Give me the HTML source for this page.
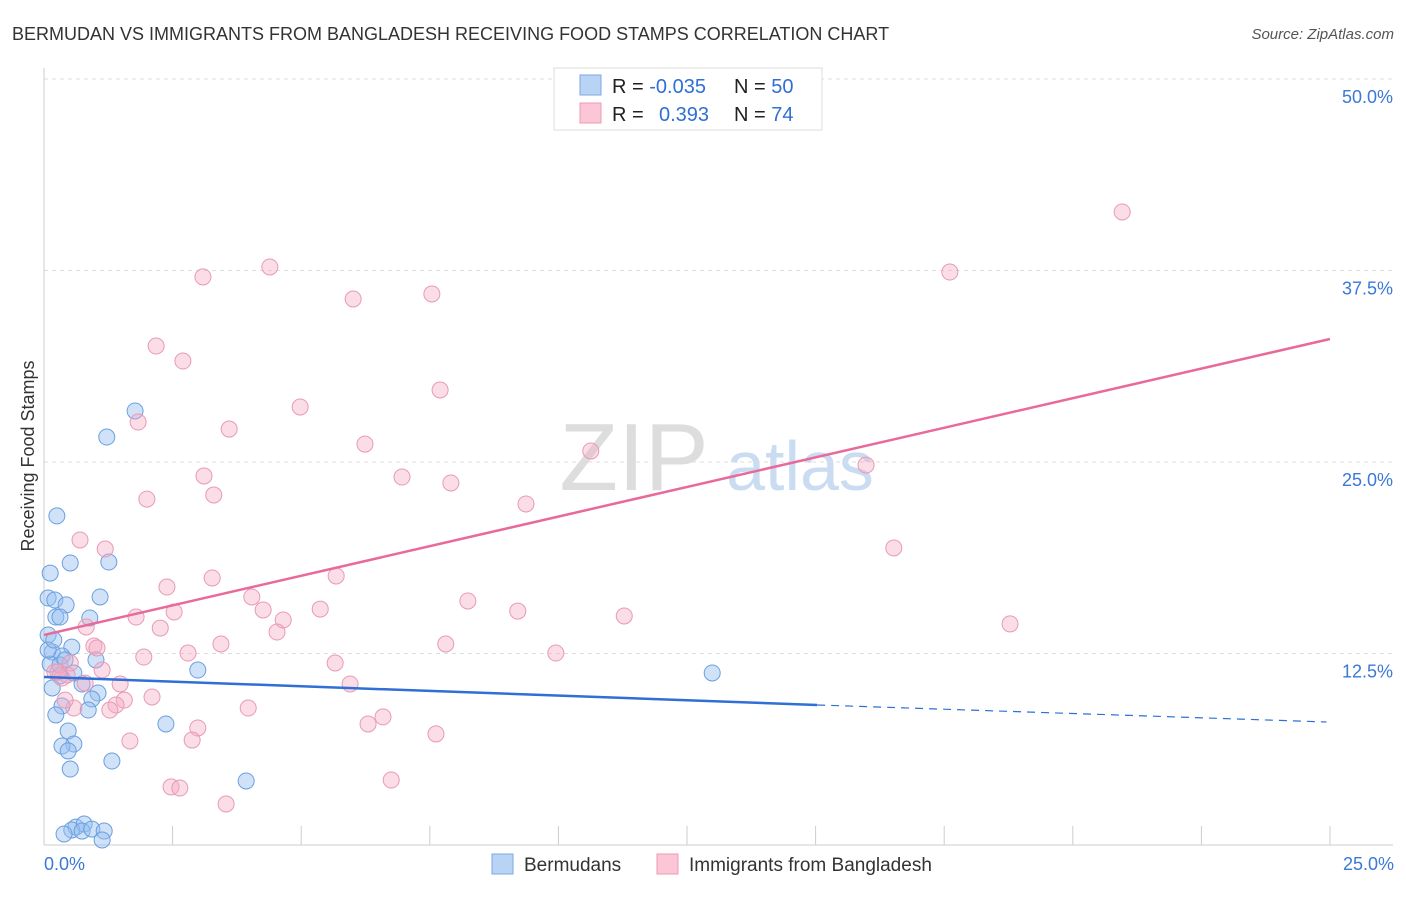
<!DOCTYPE html>
<html><head><meta charset="utf-8"><style>
body{margin:0;background:#fff;font-family:"Liberation Sans",sans-serif;}
svg text{font-family:"Liberation Sans",sans-serif;}
</style></head><body>
<svg id="chart" width="1406" height="892" viewBox="0 0 1406 892">
<text x="12" y="40" font-size="18" fill="#333">BERMUDAN VS IMMIGRANTS FROM BANGLADESH RECEIVING FOOD STAMPS CORRELATION CHART</text>
<text x="1394" y="39" font-size="15" fill="#555" font-style="italic" text-anchor="end">Source: ZipAtlas.com</text>
<text x="34" y="456" font-size="18" fill="#333" text-anchor="middle" transform="rotate(-90 34 456)">Receiving Food Stamps</text>
<g><text x="634" y="490" font-size="96" fill="#ddd" font-family="Liberation Serif" text-anchor="middle">ZIP</text><text x="800" y="490" font-size="70" fill="#c9dcf2" text-anchor="middle">atlas</text></g>
<g id="grid"></g><g id="marks"></g>
<g>
<rect x="554" y="68" width="268" height="62" fill="#fff" stroke="#ddd"/>
<rect x="580" y="75" width="21" height="20" fill="#b8d3f4" stroke="#7aaae6"/>
<rect x="580" y="103" width="21" height="20" fill="#fbc6d5" stroke="#ee9ab4"/>
<text x="612" y="93" font-size="20" fill="#222">R = <tspan fill="#2f6fd6">-0.035</tspan><tspan x="734">N = </tspan><tspan fill="#2f6fd6">50</tspan></text>
<text x="612" y="121" font-size="20" fill="#222">R = <tspan x="659" fill="#2f6fd6">0.393</tspan><tspan x="734">N = </tspan><tspan fill="#2f6fd6">74</tspan></text>
</g>
<g>
<rect x="492" y="854" width="21" height="20" fill="#b8d3f4" stroke="#7aaae6"/>
<text x="524" y="871" font-size="19" fill="#333">Bermudans</text>
<rect x="657" y="854" width="21" height="20" fill="#fbc6d5" stroke="#ee9ab4"/>
<text x="689" y="871" font-size="19" fill="#333">Immigrants from Bangladesh</text>
</g>
</svg>
<script>
const yTicks=[12.5,25,37.5,50];
const yTickLabels=["12.5%","25.0%","37.5%","50.0%"];
const xTickLabels=["0.0%","25.0%"];
const blueX=[1.77,1.22,0.25,0.51,1.26,0.12,0.08,0.21,1.09,0.43,0.23,0.31,0.89,0.08,0.54,0.16,0.35,1.01,0.12,2.99,12.99,0.58,0.31,0.16,0.74,1.05,0.93,0.35,0.86,0.23,2.37,0.47,0.58,0.35,0.47,1.32,0.51,3.93,0.62,0.78,0.54,0.74,0.93,1.17,1.13,0.39,0.08,0.31,0.19,0.41];
const blueY=[28.33,26.63,21.48,18.41,18.47,17.75,16.12,15.99,16.19,15.67,14.88,14.88,14.82,13.71,12.92,12.6,12.34,12.08,11.81,11.42,11.23,11.23,11.03,10.25,10.51,9.92,9.53,9.07,8.81,8.49,7.9,7.44,6.59,6.46,6.14,5.48,4.96,4.18,1.17,1.37,0.98,0.91,1.04,0.91,0.33,0.72,12.73,11.75,13.38,12.08];
const pinkX=[20.96,17.61,4.39,3.09,6.01,7.54,2.18,2.7,7.7,4.98,1.83,3.6,6.24,3.11,6.96,10.63,15.98,7.91,3.3,2.0,9.37,0.7,1.19,16.52,3.27,5.68,2.39,4.04,8.24,2.53,5.37,9.21,4.26,11.28,1.79,4.65,0.82,18.78,2.26,4.53,3.44,7.81,0.97,1.03,2.8,1.94,9.95,5.66,0.51,1.13,0.21,0.45,0.35,1.48,5.95,2.1,1.56,1.4,0.58,3.97,2.99,6.59,6.3,2.88,1.67,7.62,6.75,2.47,2.64,3.54,0.8,0.27,1.28,0.41];
const pinkY=[41.32,37.4,37.73,37.08,35.64,35.97,32.57,31.59,29.7,28.59,27.61,27.15,26.17,24.09,24.02,25.72,24.8,23.63,22.85,22.58,22.26,19.91,19.32,19.39,17.43,17.56,16.84,16.19,15.93,15.21,15.4,15.27,15.34,14.95,14.88,14.69,14.23,14.43,14.16,13.9,13.12,13.12,12.99,12.86,12.53,12.27,12.53,11.88,11.88,11.42,11.29,11.1,10.9,10.51,10.51,9.66,9.46,9.14,8.94,8.94,7.64,8.36,7.9,6.85,6.79,7.25,4.24,3.79,3.72,2.68,10.57,11.29,8.81,9.46];
const blueTrendX=[0,15.03,24.93];
const blueTrendY=[10.97,9.14,8.03];
const pinkTrendX=[0,25];
const pinkTrendY=[13.71,33.03];
const X0=44,X1=1330,Y0=845,Y1=79;
const sx=v=>X0+(X1-X0)*v/25;
const sy=v=>Y0-(Y0-Y1)*v/50;
const NS="http://www.w3.org/2000/svg";
function mk(tag,attrs,parent){const e=document.createElementNS(NS,tag);for(const k in attrs)e.setAttribute(k,attrs[k]);parent.appendChild(e);return e;}
const grid=document.getElementById('grid'),marks=document.getElementById('marks');
yTicks.forEach((t,i)=>{
 let l=mk('line',{x1:X0,x2:1393,y1:sy(t),y2:sy(t),stroke:'#ddd','stroke-dasharray':'4,4'},grid);
 
 
 let tx=mk('text',{x:1393,y:sy(t)+24,'font-size':18,fill:'#3b78d8','text-anchor':'end'},grid);
 tx.textContent=yTickLabels[i];
 
 
});
let ax=mk('line',{x1:X0,x2:1393,y1:Y0,y2:Y0,stroke:'#ccc'},grid);


let ay=mk('line',{x1:X0,x2:X0,y1:68,y2:Y0,stroke:'#ccc'},grid);


for(let i=1;i<=10;i++){
 let tk=mk('line',{x1:sx(i*2.5),x2:sx(i*2.5),y1:826,y2:Y0,stroke:'#ccc'},grid);
 
 
}
[[0,'start',X0],[25,'end',1394]].forEach((d,i)=>{
 let tx=mk('text',{x:d[2],y:870,'font-size':18,fill:'#3b78d8','text-anchor':d[1]},grid);
 tx.textContent=xTickLabels[i];
 
 
});
blueX.forEach((v,i)=>{
 let c=mk('circle',{cx:sx(v),cy:sy(blueY[i]),r:8,fill:'rgba(150,190,240,0.45)',stroke:'#6a9fe0','stroke-width':1},marks);
 
 
});
pinkX.forEach((v,i)=>{
 let c=mk('circle',{cx:sx(v),cy:sy(pinkY[i]),r:8,fill:'rgba(245,170,195,0.4)',stroke:'#e99ab3','stroke-width':1},marks);
 
 
});
let bl=mk('line',{x1:sx(blueTrendX[0]),y1:sy(blueTrendY[0]),x2:sx(blueTrendX[1]),y2:sy(blueTrendY[1]),stroke:'#2f6fd6','stroke-width':2.5},marks);


let bd=mk('line',{x1:sx(blueTrendX[1]),y1:sy(blueTrendY[1]),x2:sx(blueTrendX[2]),y2:sy(blueTrendY[2]),stroke:'#2f6fd6','stroke-width':1.2,'stroke-dasharray':'8,6'},marks);


let pl=mk('line',{x1:sx(pinkTrendX[0]),y1:sy(pinkTrendY[0]),x2:sx(pinkTrendX[1]),y2:sy(pinkTrendY[1]),stroke:'#e8699a','stroke-width':2.5},marks);


</script>
</body></html>
